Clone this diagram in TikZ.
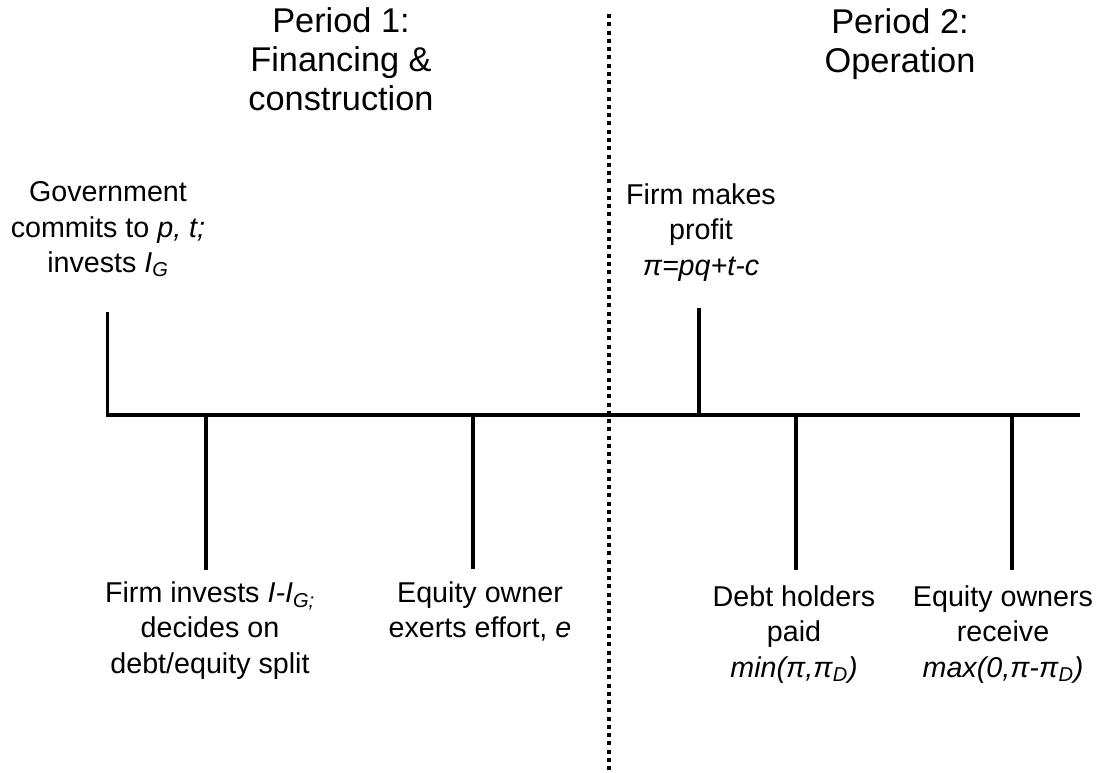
\documentclass[tikz,border=0pt]{standalone}
\usepackage{fontspec}
\setmainfont{Liberation Sans}
\begin{document}
\begin{tikzpicture}[x=0.75pt,y=-0.75pt,
  timeline/.style={line width=3pt},
  tick/.style={line width=2.4pt},
  divider/.style={line width=3pt, dash pattern=on 3pt off 3.2pt},
  heading/.style={inner sep=0pt, anchor=north, align=center, font=\fontsize{25.75}{29.5}\selectfont},
  event/.style={inner sep=0pt, anchor=north, align=center, font=\fontsize{21.5}{26.5}\selectfont}]
\useasboundingbox (0,0) rectangle (1097,773);
% divider
\coordinate (dtop) at (609,14);
\coordinate (dbot) at (609,773);
\draw[divider] (dtop) -- (dbot);
% timeline
\coordinate (L) at (106,415);
\coordinate (R) at (1080,415);
\draw[timeline] (L) -- (R);
% tick coordinates
\coordinate (gov0) at (107.5,415);   \coordinate (gov1) at (107.5,312);
\coordinate (inv0) at (206,415);     \coordinate (inv1) at (206,570);
\coordinate (eff0) at (473,415);     \coordinate (eff1) at (473,569);
\coordinate (pro0) at (699,415);     \coordinate (pro1) at (699,308);
\coordinate (debt0) at (796,415);    \coordinate (debt1) at (796,570);
\coordinate (eq0) at (1012,415);     \coordinate (eq1) at (1012,570);
\draw[tick] (gov0) -- (gov1);
\draw[tick] (inv0) -- (inv1);
\draw[tick] (eff0) -- (eff1);
\draw[tick] (pro0) -- (pro1);
\draw[tick] (debt0) -- (debt1);
\draw[tick] (eq0) -- (eq1);
% headings
\node[heading] (h1) at (341,7) {Period 1:\\Financing \&\\construction};
\node[heading] (h2) at (900,8) {Period 2:\\Operation};
% events
\node[event] (gov) at (108,181.5) {Government\\commits to \textit{p, t;}\\invests \textit{I}\textsubscript{\textit{G}}};
\node[event] (pro) at (701,183.5) {Firm makes\\profit\\\textit{π=pq+t-c}};
\node[event] (inv) at (210,581.5) {Firm invests \textit{I-I}\textsubscript{\textit{G;}}\\decides on\\debt/equity split};
\node[event] (eff) at (480,581.5) {Equity owner\\exerts effort, \textit{e}};
\node[event] (debt) at (794,585.5) {Debt holders\\paid\\\textit{min(π,π}\textsubscript{\textit{D}}\textit{)}};
\node[event] (eq) at (1003,585.5) {Equity owners\\receive\\\textit{max(0,π-π}\textsubscript{\textit{D}}\textit{)}};
\end{tikzpicture}
\end{document}
